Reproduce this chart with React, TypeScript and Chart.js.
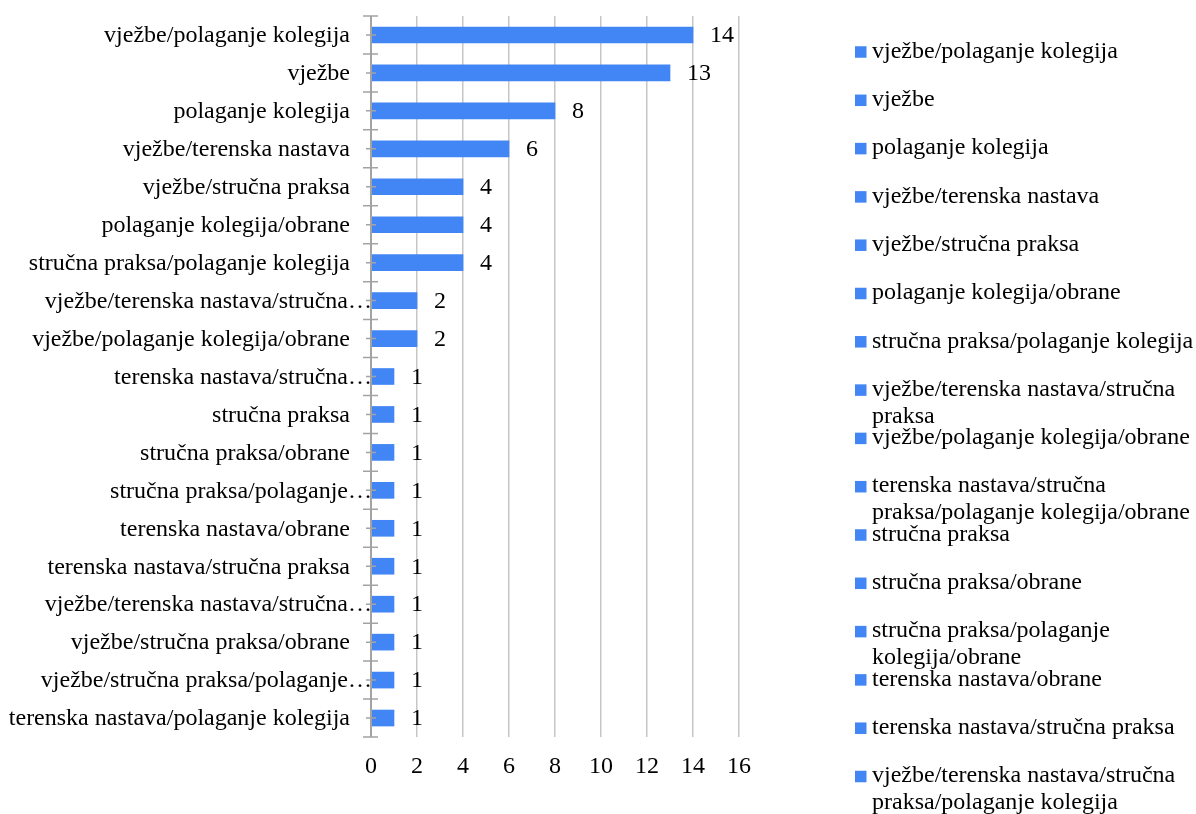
import React, { useEffect, useRef } from "react";
import { Chart, registerables } from "chart.js";

Chart.register(...registerables);

const categories: string[] = [
  "vježbe/polaganje kolegija",
  "vježbe",
  "polaganje kolegija",
  "vježbe/terenska nastava",
  "vježbe/stručna praksa",
  "polaganje kolegija/obrane",
  "stručna praksa/polaganje kolegija",
  "vježbe/terenska nastava/stručna praksa",
  "vježbe/polaganje kolegija/obrane",
  "terenska nastava/stručna praksa/polaganje kolegija/obrane",
  "stručna praksa",
  "stručna praksa/obrane",
  "stručna praksa/polaganje kolegija/obrane",
  "terenska nastava/obrane",
  "terenska nastava/stručna praksa",
  "vježbe/terenska nastava/stručna praksa/polaganje kolegija",
  "vježbe/stručna praksa/obrane",
  "vježbe/stručna praksa/polaganje kolegija",
  "terenska nastava/polaganje kolegija",
];

// labels as they appear on the category axis (truncated ones end with …)
const axisLabels: string[] = [
  "vježbe/polaganje kolegija",
  "vježbe",
  "polaganje kolegija",
  "vježbe/terenska nastava",
  "vježbe/stručna praksa",
  "polaganje kolegija/obrane",
  "stručna praksa/polaganje kolegija",
  "vježbe/terenska nastava/stručna…",
  "vježbe/polaganje kolegija/obrane",
  "terenska nastava/stručna…",
  "stručna praksa",
  "stručna praksa/obrane",
  "stručna praksa/polaganje…",
  "terenska nastava/obrane",
  "terenska nastava/stručna praksa",
  "vježbe/terenska nastava/stručna…",
  "vježbe/stručna praksa/obrane",
  "vježbe/stručna praksa/polaganje…",
  "terenska nastava/polaganje kolegija",
];

const values: number[] = [14, 13, 8, 6, 4, 4, 4, 2, 2, 1, 1, 1, 1, 1, 1, 1, 1, 1, 1];

const xMin = 0;
const xMax = 16;
const xStep = 2;

const BAR_COLOR = "#4285F4";
const FONT_FAMILY = "'Liberation Serif', 'Times New Roman', serif";
const FONT_SIZE = 24;

function wrapText(ctx: CanvasRenderingContext2D, text: string, maxWidth: number): string[] {
  const words = text.split(" ");
  const lines: string[] = [];
  let cur = "";
  for (const w of words) {
    const test = cur ? cur + " " + w : w;
    if (cur && ctx.measureText(test).width > maxWidth) {
      lines.push(cur);
      cur = w;
    } else {
      cur = test;
    }
  }
  if (cur) lines.push(cur);
  return lines;
}

export default function App() {
  const ref = useRef<HTMLCanvasElement>(null);

  useEffect(() => {
    document.body.style.margin = "0";
    const canvas = ref.current;
    if (!canvas) return;

    const font = `${FONT_SIZE}px ${FONT_FAMILY}`;

    const decor = {
      id: "decor",
      afterDatasetsDraw(chart: any) {
        const ctx: CanvasRenderingContext2D = chart.ctx;
        const ca = chart.chartArea;
        const yScale = chart.scales.y;
        const n = categories.length;
        ctx.save();

        // category axis line
        ctx.strokeStyle = "#a3a3a3";
        ctx.lineWidth = 2;
        ctx.beginPath();
        ctx.moveTo(ca.left, ca.top);
        ctx.lineTo(ca.left, ca.bottom);
        ctx.stroke();

        // tick marks
        ctx.lineWidth = 1.5;
        const centers: number[] = [];
        for (let i = 0; i < n; i++) centers.push(yScale.getPixelForValue(i));
        const bounds: number[] = [ca.top];
        for (let i = 0; i < n - 1; i++) bounds.push((centers[i] + centers[i + 1]) / 2);
        bounds.push(ca.bottom);
        ctx.beginPath();
        for (const b of bounds) {
          ctx.moveTo(ca.left - 8, b);
          ctx.lineTo(ca.left + 7, b);
        }
        for (const c of centers) {
          ctx.moveTo(ca.left - 5, c);
          ctx.lineTo(ca.left + 5, c);
        }
        ctx.stroke();

        // category labels
        ctx.font = font;
        ctx.fillStyle = "#000";
        ctx.textAlign = "right";
        ctx.textBaseline = "middle";
        axisLabels.forEach((lab, i) => {
          const truncated = lab.endsWith("…");
          const xr = truncated ? ca.left + 1 : ca.left - 21;
          ctx.fillText(lab, xr, centers[i] + 1);
        });

        // data labels
        const meta = chart.getDatasetMeta(0);
        ctx.textAlign = "left";
        meta.data.forEach((el: any, i: number) => {
          ctx.fillText(String(values[i]), el.x + 17, el.y + 1);
        });

        // legend
        const legendX = 855;
        const legendTop = 52;
        const legendStep = 48.3;
        const box = 11.5;
        const lineH = 27;
        const textX = 872;
        ctx.textBaseline = "alphabetic";
        categories.forEach((cat, i) => {
          const cy = legendTop + i * legendStep;
          ctx.fillStyle = BAR_COLOR;
          ctx.fillRect(legendX, cy - box / 2, box, box);
          ctx.fillStyle = "#000";
          const lines = wrapText(ctx, cat, 326);
          lines.forEach((ln, k) => {
            ctx.fillText(ln, textX, cy + box / 2 + k * lineH);
          });
        });

        ctx.restore();
      },
    };

    const chart = new Chart(canvas, {
      type: "bar",
      data: {
        labels: categories,
        datasets: [
          {
            data: values,
            backgroundColor: BAR_COLOR,
            borderWidth: 0,
            barThickness: 16,
          },
        ],
      },
      options: {
        indexAxis: "y",
        responsive: false,
        animation: false,
        layout: { padding: { top: 16, right: 457, left: 0, bottom: 0 } },
        plugins: {
          legend: { display: false },
          tooltip: { enabled: false },
        },
        scales: {
          x: {
            min: xMin,
            max: xMax,
            ticks: {
              stepSize: xStep,
              color: "#000",
              font: { family: FONT_FAMILY, size: FONT_SIZE },
              padding: 15,
            },
            grid: { color: "#c6c6c6", lineWidth: 1.5, drawTicks: false },
            border: { display: false },
            afterFit(s: any) {
              s.height = 77;
            },
          },
          y: {
            ticks: { display: false },
            grid: { display: false, drawTicks: false },
            border: { display: false },
            afterFit(s: any) {
              s.width = 371;
            },
          },
        },
      },
      plugins: [decor],
    });

    return () => chart.destroy();
  }, []);

  return <canvas ref={ref} width={1196} height={814} style={{ display: "block" }} />;
}
